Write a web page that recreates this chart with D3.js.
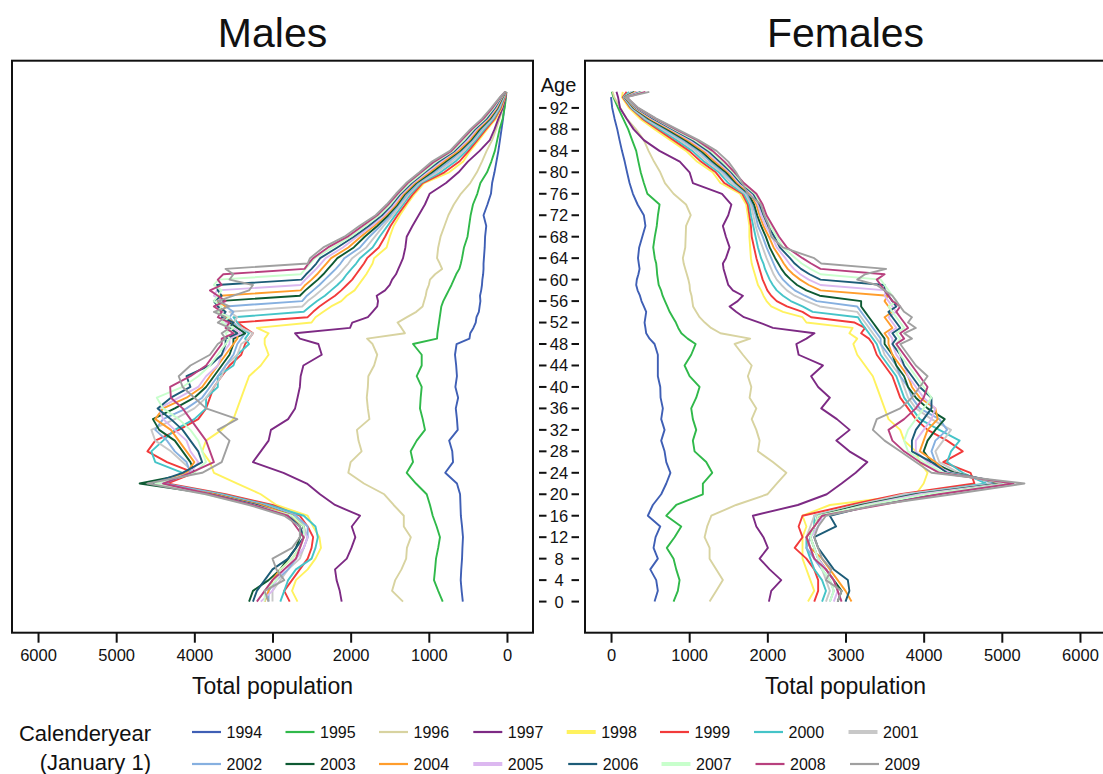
<!DOCTYPE html>
<html><head><meta charset="utf-8">
<script src="https://cdn.jsdelivr.net/npm/d3@7"></script>
<style>body{margin:0;background:#fff;} svg{display:block;font-family:"Liberation Sans",Arial,Helvetica,sans-serif;}</style>
</head><body><svg id="c" width="1103" height="774"></svg>
<script>
// ---------- DATA ----------
const ages = [0,2,4,6,8,10,12,14,16,18,20,22,24,26,28,30,32,34,36,38,40,42,44,46,48,
  49,50,51,52,53,54,55,56,57,58,59,60,61,62,63,64,
  66,68,70,72,74,76,78,80,82,84,86,88,90,92,94,95];
const years = [1994,1995,1996,1997,1998,1999,2000,2001,2002,2003,2004,2005,2006,2007,2008,2009];
const colors = ["#3f5fb5","#30b94a","#d8d3a0","#7d2a84","#fff25e","#f23a3a","#45c4c8","#c8c8c8",
  "#86b0e0","#0e5a33","#ff9d2c","#dcb8f0","#1d5c78","#c8ffcc","#b8407e","#a0a0a0"];
const legendThick = [1998,2001,2005,2007];
const xTicks = [0,1000,2000,3000,4000,5000,6000];
const ageTicks = [0,4,8,12,16,20,24,28,32,36,40,44,48,52,56,60,64,68,72,76,80,84,88,92];

// Males
const m1994 = [565,580,592,585,575,570,563,575,590,595,600,640,790,690,700,740,630,640,655,625,660,640,650,665,645,
  480,470,430,400,390,360,350,340,345,330,320,315,305,300,300,295,
  285,280,265,300,250,205,190,160,135,110,90,70,50,35,18,12];
const m1995 = [822,880,934,920,908,880,857,900,950,985,1027,1164,1283,1202,1232,1155,1049,1078,1113,1104,1091,1155,1091,1091,1202,
  895,890,880,870,860,850,840,815,780,745,710,680,650,610,590,575,
  550,505,485,465,435,380,340,255,200,155,125,95,55,30,12,8];
const m1996 = [1330,1470,1430,1350,1290,1280,1230,1320,1320,1450,1570,1830,2030,2000,1860,1900,1920,1760,1780,1794,1780,1774,1700,1660,1720,
  1790,1305,1350,1400,1280,1160,1080,1060,1040,1027,1000,985,920,830,860,895,
  880,850,800,750,680,590,470,385,320,260,190,140,95,55,20,10];
const m1997 = [2115,2140,2180,2200,2050,1990,1940,1986,1880,2200,2392,2560,2860,3250,3150,3050,3020,2800,2711,2680,2650,2640,2605,2370,2413,
  2650,2711,2008,1980,1780,1720,1660,1650,1667,1560,1500,1470,1420,1390,1360,1330,
  1300,1283,1210,1130,1050,990,780,620,500,350,220,160,110,55,18,8];
const m1998 = [2680,2750,2700,2550,2450,2380,2400,2480,2550,2950,3150,3450,
  3750,3800,3900,3850,3650,3500,3450,3400,3350,3300,3150,3050,3100,
  3100,3050,3200,2500,2450,2350,2250,2120,2050,1950,1900,1850,1800,1760,1720,1700,
  1540,1500,1450,1370,1280,1180,1060,740,560,470,360,255,140,70,28,14];
const m1999 = [2780,2850,2750,2650,2550,2500,2480,2550,2650,3000,3600,4350,
  4000,4350,4600,4500,4200,3950,3850,3800,3750,3650,3550,3400,3350,
  3300,3250,3350,3450,2550,2480,2400,2300,2200,2120,2050,1980,1930,1880,1830,1790,
  1640,1560,1490,1400,1300,1200,1080,800,610,490,380,270,155,80,32,15];
const m2000 = [2900,2850,2800,2700,2500,2450,2420,2450,2600,3050,3650,4400,
  4150,4500,4550,4400,4250,4000,3850,3850,3700,3700,3500,3450,3300,
  3350,3300,3400,3450,3500,2600,2520,2430,2330,2250,2170,2100,2050,1990,1930,1880,
  1720,1630,1530,1430,1330,1230,1100,850,660,520,400,290,170,90,38,16];
const m2001 = [3000,3000,2900,2800,2650,2600,2550,2600,2700,3100,3700,4450,
  4000,4150,4300,4500,4550,4250,4000,3850,3750,3650,3600,3450,3400,
  3300,3250,3400,3500,3450,3550,2620,2550,2460,2380,2300,2220,2150,2090,2030,1980,
  1800,1690,1580,1460,1350,1250,1120,890,700,550,420,310,185,100,44,17];
const m2002 = [3050,3050,2950,2800,2700,2600,2550,2550,2700,3100,3700,4400,
  4050,4100,4250,4350,4500,4400,4100,3900,3800,3700,3600,3500,3450,
  3400,3350,3450,3500,3550,3500,3600,2620,2560,2480,2400,2330,2260,2190,2130,2080,
  1880,1760,1620,1490,1380,1270,1140,930,740,580,440,330,200,110,50,18];
const m2003 = [3300,3250,3050,2900,2800,2700,2650,2600,2750,3150,3750,4700,
  4000,4050,4150,4250,4450,4530,4250,4000,3850,3750,3650,3550,3500,
  3500,3350,3450,3550,3600,3650,3700,3690,2650,2580,2500,2420,2350,2290,2230,2170,
  1960,1820,1660,1520,1400,1300,1160,960,780,600,460,350,215,120,56,19];
const m2004 = [3100,3050,3000,2900,2750,2650,2600,2650,2750,3150,3750,4500,
  4100,4000,4100,4200,4300,4500,4400,4100,3900,3800,3700,3600,3500,
  3450,3450,3550,3500,3600,3650,3600,3700,3670,2640,2580,2500,2430,2370,2310,2250,
  2030,1870,1700,1550,1420,1320,1180,990,810,620,480,370,230,130,62,20];
const m2005 = [3150,3000,2950,2850,2700,2600,2550,2650,2800,3200,3800,4450,
  4050,3950,4050,4100,4250,4400,4450,4200,3950,3850,3700,3650,3550,
  3550,3400,3500,3600,3550,3650,3700,3650,3750,3710,2640,2580,2510,2440,2380,2320,
  2100,1920,1730,1570,1440,1340,1200,1020,840,650,500,390,245,140,68,21];
const m2006 = [3250,3200,3100,3000,2800,2700,2600,2650,2800,3200,3800,4550,
  4150,3900,3950,4050,4150,4300,4470,4300,4050,4100,3800,3650,3600,
  3600,3450,3550,3500,3650,3600,3700,3750,3650,3700,3710,2630,2570,2500,2440,2390,
  2170,1960,1770,1600,1470,1360,1220,1050,870,670,530,410,260,155,74,22];
const m2007 = [3100,3100,2950,2900,2750,2650,2600,2600,2750,3250,3850,4500,
  4000,3850,3900,3950,4050,4200,4400,4480,4150,3950,3800,3700,3600,
  3550,3600,3500,3650,3550,3700,3650,3750,3700,3650,3750,3690,2640,2580,2520,2460,
  2230,2000,1810,1630,1490,1380,1240,1070,900,690,550,430,280,170,80,23];
const m2008 = [3200,3100,3000,2850,2700,2650,2600,2700,2800,3250,3800,4400,
  4050,3750,3800,3850,3950,4050,4150,4300,4310,4050,3850,3750,3650,
  3650,3500,3600,3550,3700,3650,3750,3600,3700,3800,3650,3700,3630,2590,2540,2480,
  2290,2040,1850,1660,1520,1400,1270,1100,930,710,580,450,300,185,85,24];
const m2009 = [3050,3100,2850,2950,3000,2750,2650,2650,2850,3300,3850,4600,
  3900,3650,3600,3550,3700,3450,3850,4000,4150,4200,4050,3800,3700,
  3600,3650,3550,3700,3600,3750,3550,3700,3500,3300,3250,3550,3500,3600,2550,2520,
  2350,2080,1890,1680,1540,1420,1290,1120,960,730,600,470,320,200,90,26];

// Females
const f1994 = [557,599,578,502,599,544,570,630,471,535,642,707,760,707,685,642,685,642,663,634,630,599,599,599,557,
  493,450,440,429,440,450,420,390,370,340,322,330,350,365,355,345,
  360,400,440,420,340,280,237,205,175,140,109,80,45,15,0,null];
const f1995 = [800,855,877,834,800,714,813,898,707,834,1175,1175,1295,1218,1069,1047,1090,1047,1026,1090,1133,1005,941,1026,1082,
  980,900,860,830,790,750,720,690,660,640,610,600,590,585,578,560,
  540,560,585,600,621,465,420,380,350,322,270,220,155,90,30,10];
const f1996 = [1261,1347,1431,1347,1261,1261,1197,1230,1283,1600,2000,2120,2243,2071,1879,1901,1859,1800,1859,1773,1795,1751,1800,1687,1581,
  1780,1400,1280,1200,1133,1090,1050,1040,1030,1010,1005,990,970,950,930,919,
  950,955,960,1020,960,800,690,630,550,480,420,320,200,120,40,20];
const f1997 = [2020,2050,2178,2029,1901,2007,1950,1859,1815,2390,2760,2950,3130,3280,3050,2883,3053,2890,2690,2800,2650,2560,2711,2400,2371,
  2500,2603,2071,1900,1700,1600,1517,1620,1687,1559,1500,1480,1460,1440,1431,1470,
  1517,1470,1431,1500,1540,1420,1047,1005,880,620,420,290,200,115,90,70];
const f1998 = [2520,2600,2550,2500,2450,2450,2450,2500,2450,2800,3900,4000,
  4050,3950,3900,3750,3700,3550,3500,3450,3400,3350,3250,3150,3100,
  3150,3050,3090,2500,2450,2200,2050,1990,1950,1920,1880,1860,1840,1820,1800,1790,
  1780,1770,1770,1750,1730,1650,1400,1300,1100,960,760,560,370,230,140,150];
const f1999 = [2600,2650,2650,2600,2500,2350,2450,2400,2450,3050,3700,4650,
  4600,4250,4500,4300,4050,3900,3800,3700,3650,3600,3500,3400,3350,
  3300,3200,3250,3117,2560,2450,2250,2120,2050,2000,1970,1940,1920,1900,1880,1860,
  1830,1800,1790,1770,1750,1680,1450,1340,1150,1000,800,600,400,250,150,200];
const f2000 = [2700,2750,2700,2600,2550,2500,2500,2600,2600,3150,3800,4800,
  4500,4300,4350,4460,4200,3950,3850,3750,3700,3650,3550,3450,3400,
  3350,3300,3250,3200,3160,2580,2450,2300,2200,2120,2070,2030,2000,1970,1950,1920,
  1880,1850,1820,1790,1770,1700,1500,1380,1190,1040,840,630,420,260,160,230];
const f2001 = [2750,2800,2750,2700,2600,2550,2500,2550,2600,3150,3750,4900,
  4450,4200,4150,4250,4350,4100,3900,3800,3750,3700,3600,3500,3450,
  3400,3350,3300,3250,3200,3150,2670,2500,2350,2250,2180,2120,2080,2050,2020,1990,
  1940,1890,1850,1820,1790,1720,1540,1410,1230,1080,880,660,440,270,165,260];
const f2002 = [2800,2850,2800,2700,2600,2500,2550,2650,2700,3250,3850,4950,
  4350,4150,4100,4150,4300,4200,3950,3850,3800,3700,3650,3550,3450,
  3450,3400,3350,3300,3250,3200,3150,2630,2480,2350,2270,2200,2150,2110,2080,2050,
  1990,1940,1880,1850,1810,1740,1580,1440,1270,1120,920,690,460,280,170,280];
const f2003 = [2900,2950,2850,2750,2650,2600,2550,2600,2650,3200,3900,5000,
  4400,4100,4000,4050,4150,4270,4050,3900,3800,3750,3650,3600,3500,
  3500,3450,3400,3350,3300,3250,3200,3200,2670,2500,2380,2300,2230,2180,2140,2100,
  2030,1980,1920,1870,1830,1760,1600,1470,1300,1150,950,720,480,290,175,300];
const f2004 = [3077,3000,2900,2800,2700,2550,2500,2600,2700,3300,4000,5050,
  4300,4150,3950,4000,4050,4180,4150,3950,3850,3800,3700,3600,3550,
  3550,3500,3600,3550,3500,3600,3550,3500,3540,2680,2530,2420,2330,2260,2210,2170,
  2080,2020,1950,1900,1860,1780,1620,1500,1330,1180,980,750,500,300,180,320];
const f2005 = [2850,2900,2850,2750,2650,2600,2550,2650,2700,3250,3950,5050,
  4350,4050,3900,3900,4000,4100,4150,4000,3900,3800,3750,3650,3600,
  3600,3550,3650,3600,3550,3650,3600,3550,3500,3520,2680,2530,2420,2340,2280,2230,
  2120,2060,1980,1920,1880,1800,1640,1520,1360,1210,1010,770,520,310,185,340];
const f2006 = [3000,3050,3030,2850,2750,2650,2600,2880,2800,3350,4100,5100,
  4300,4100,3850,3850,3900,4000,4100,4100,3950,3850,3750,3700,3600,
  3650,3600,3700,3650,3600,3550,3650,3600,3550,3500,3500,2680,2540,2430,2350,2290,
  2160,2090,2010,1950,1900,1820,1660,1540,1390,1240,1040,790,540,320,190,380];
const f2007 = [2800,2850,2800,2700,2650,2600,2550,2600,2650,3300,4050,5100,
  4250,4000,3800,3750,3800,3900,4000,4100,4000,3900,3800,3700,3650,
  3700,3650,3750,3700,3650,3600,3550,3650,3600,3550,3500,3450,2680,2550,2440,2360,
  2200,2120,2040,1970,1920,1840,1680,1560,1420,1270,1070,810,560,330,195,400];
const f2008 = [2950,2900,2850,2750,2600,2550,2500,2600,2700,3450,4200,5150,
  4200,3950,3750,3600,3550,3750,3900,4000,4050,3950,3850,3750,3650,
  3750,3700,3800,3750,3700,3650,3700,3600,3550,3500,3450,3400,3500,2680,2560,2450,
  2250,2150,2070,1990,1940,1860,1700,1580,1450,1300,1100,830,570,340,200,440];
const f2009 = [2900,2950,2750,2820,2700,2650,2600,2650,2750,3400,4370,5290,
  4100,3900,3700,3500,3350,3400,3700,3850,3950,4050,3900,3800,3700,
  3850,3750,3900,3800,3850,3750,3700,3650,3600,3500,3400,3150,3250,3520,2690,2600,
  2200,2050,2020,1960,1920,1750,1680,1600,1500,1350,1120,850,580,350,200,490];

const maleSeries = [m1994,m1995,m1996,m1997,m1998,m1999,m2000,m2001,m2002,m2003,m2004,m2005,m2006,m2007,m2008,m2009];
const femaleSeries = [f1994,f1995,f1996,f1997,f1998,f1999,f2000,f2001,f2002,f2003,f2004,f2005,f2006,f2007,f2008,f2009];

// ---------- CHART ----------
const svg = d3.select("#c");
const y = d3.scaleLinear().domain([-5.8, 100.8]).range([632.7, 60.7]);
const xL = d3.scaleLinear().domain([6333, -333]).range([12, 533]);
const xR = d3.scaleLinear().domain([-333, 6333]).range([585, 1106]);
const panels = [
  {x: xL, data: maleSeries, title: "Males", id: "clipL"},
  {x: xR, data: femaleSeries, title: "Females", id: "clipR"}
];
const defs = svg.append("defs");

panels.forEach(p => {
  const [x0, x1] = p.x.range();
  const [yb, yt] = y.range();
  defs.append("clipPath").attr("id", p.id).append("rect")
    .attr("x", x0).attr("y", yt).attr("width", x1 - x0).attr("height", yb - yt);
  const g = svg.append("g").attr("clip-path", `url(#${p.id})`);
  const line = d3.line()
    .defined(d => d.v != null)
    .x(d => p.x(d.v)).y(d => y(d.a))
    .curve(d3.curveLinear);
  p.data.forEach((vals, i) => {
    const pts = ages.map((a, k) => ({a: a, v: vals[k]}));
    g.append("path").attr("d", line(pts))
      .attr("fill", "none").attr("stroke", colors[i])
      .attr("stroke-width", 1.9).attr("stroke-linejoin", "round");
  });
  // frame
  svg.append("rect").attr("x", x0).attr("y", yt).attr("width", x1 - x0).attr("height", yb - yt)
    .attr("fill", "none").attr("stroke", "#111").attr("stroke-width", 2);
  // x axis
  const ax = svg.append("g").attr("transform", `translate(0,${yb})`)
    .call(d3.axisBottom(p.x).tickValues(xTicks).tickSize(10).tickPadding(7).tickFormat(d3.format("d")));
  ax.select(".domain").remove();
  ax.selectAll(".tick line").attr("stroke", "#111").attr("stroke-width", 2);
  ax.selectAll(".tick text").attr("fill", "#111").style("font-size", "16.5px").style("font-family", "'Liberation Sans',Arial,sans-serif");
  // titles
  svg.append("text").attr("x", (x0 + x1) / 2).attr("y", 47)
    .attr("text-anchor", "middle").style("font-size", "41px").attr("fill", "#111").text(p.title);
  svg.append("text").attr("x", (x0 + x1) / 2).attr("y", 694)
    .attr("text-anchor", "middle").style("font-size", "23px").attr("fill", "#111").text("Total population");
});

// central age axis
const ag = svg.append("g");
ageTicks.forEach(a => {
  const yy = y(a);
  ag.append("line").attr("x1", 539).attr("x2", 546.5).attr("y1", yy).attr("y2", yy).attr("stroke", "#111").attr("stroke-width", 2);
  ag.append("line").attr("x1", 571.5).attr("x2", 579).attr("y1", yy).attr("y2", yy).attr("stroke", "#111").attr("stroke-width", 2);
  ag.append("text").attr("x", 559).attr("y", yy).attr("dy", "0.36em").attr("text-anchor", "middle")
    .style("font-size", "16.5px").attr("fill", "#111").text(a);
});
ag.append("text").attr("x", 558.5).attr("y", y(96) - 1.5).attr("dy", "0.36em").attr("text-anchor", "middle")
  .style("font-size", "20px").attr("fill", "#111").text("Age");

// legend
const lg = svg.append("g");
lg.append("text").attr("x", 151).attr("y", 741).attr("text-anchor", "end").style("font-size", "22px").attr("fill", "#111").text("Calenderyear");
lg.append("text").attr("x", 151).attr("y", 770).attr("text-anchor", "end").style("font-size", "22px").attr("fill", "#111").text("(January 1)");
const colX = [192, 285.5, 379, 473.3, 566.7, 660, 754, 848.5];
years.forEach((yr, i) => {
  const row = Math.floor(i / 8), col = i % 8;
  const lx = colX[col] + (row === 1 && col >= 4 ? 1.5 : 0);
  const ly = row === 0 ? 732 : 764;
  lg.append("line").attr("x1", lx).attr("x2", lx + 29).attr("y1", ly).attr("y2", ly)
    .attr("stroke", colors[i]).attr("stroke-width", legendThick.includes(yr) ? 4 : 2.2);
  lg.append("text").attr("x", lx + 34.5).attr("y", ly).attr("dy", "0.36em")
    .style("font-size", "16px").attr("fill", "#111").text(yr);
});
</script>
</body></html>
